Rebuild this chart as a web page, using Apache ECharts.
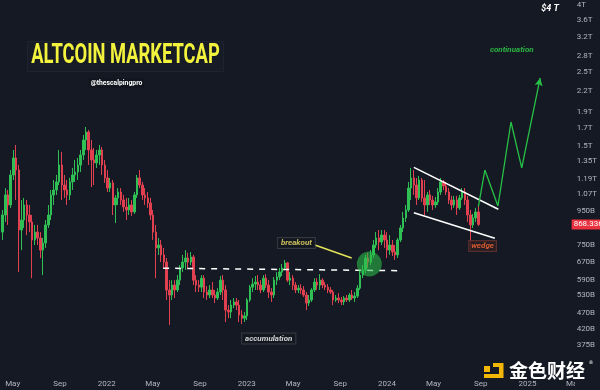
<!DOCTYPE html>
<html><head><meta charset="utf-8">
<script src="https://cdn.jsdelivr.net/npm/echarts@6/dist/echarts.min.js"></script>
<style>html,body{margin:0;padding:0;background:#151923;}#c{width:600px;height:390px;}</style>
</head><body><div id="c"></div>
<script>
// Weekly candles of the altcoin market cap (billions USD): [open, close, low, high]
const firstWeek = '2021-04-05';
const candles = [
[823,927,779,960],[927,1066,883,1118],[1066,994,865,1103],[994,1225,974,1268],[1225,1379,1183,1458],
[1379,1268,1029,1509],[1268,835,623,1313],[835,895,726,1029],[895,994,847,1044],[994,927,806,1029],
[927,883,823,994],[883,779,597,927],[779,823,752,865],[823,790,752,865],[790,726,687,823],
[726,763,610,790],[763,865,737,895],[865,927,847,994],[927,1066,895,1103],[1066,1103,994,1183],
[1103,1167,1066,1225],[1167,1313,1142,1458],[1313,1142,1029,1438],[1142,1103,1044,1225],[1103,1066,994,1183],
[1066,1167,1029,1200],[1167,1225,1103,1286],[1225,1251,1167,1360],[1251,1313,1183,1379],[1313,1408,1251,1458],
[1408,1563,1360,1618],[1563,1652,1458,1711],[1652,1458,1313,1675],[1458,1360,1126,1563],[1360,1332,1142,1478],
[1332,1408,1286,1458],[1408,1458,1313,1509],[1458,1313,1225,1489],[1313,1200,1159,1360],[1200,1118,1088,1268],
[1118,1159,1088,1200],[1159,994,927,1183],[994,1044,877,1066],[1044,1088,994,1118],[1088,1029,994,1118],
[1029,980,947,1066],[980,960,895,1044],[960,994,927,1044],[994,947,921,1029],[947,1066,934,1088],
[1066,1200,1044,1225],[1200,1142,1118,1268],[1142,1066,1029,1167],[1066,1044,994,1118],[1044,1008,974,1088],
[1008,927,895,1044],[927,823,779,960],[823,737,597,865],[737,752,702,790],[752,702,668,779],
[702,668,641,737],[668,550,513,687],[550,531,431,589],[531,569,513,589],[569,550,520,589],
[550,589,542,610],[589,641,569,654],[641,668,623,702],[668,687,632,726],[687,668,641,712],
[668,692,654,716],[692,589,569,702],[589,569,542,610],[569,561,542,589],[561,597,542,610],
[597,542,520,610],[542,531,513,565],[531,550,520,569],[550,531,520,581],[531,520,502,550],
[520,542,513,557],[542,589,531,606],[589,550,513,610],[550,478,440,569],[478,472,452,495],
[472,495,452,513],[495,506,485,520],[506,495,478,520],[495,462,440,513],[462,452,434,478],
[452,459,440,472],[459,513,446,520],[513,561,506,569],[561,573,542,597],[573,581,550,606],
[581,569,550,610],[569,550,538,589],[550,597,542,610],[597,569,557,614],[569,542,520,589],
[542,531,506,557],[531,589,520,602],[589,602,569,623],[602,623,589,641],[623,641,606,659],
[641,664,632,678],[664,589,581,668],[589,597,569,623],[597,569,550,610],[569,550,538,581],
[550,557,538,569],[557,550,535,573],[550,531,524,565],[531,502,478,542],[502,513,492,531],
[513,550,506,557],[550,581,542,597],[581,569,550,597],[569,589,550,614],[589,569,557,597],
[569,561,550,581],[561,550,538,573],[550,542,535,561],[542,513,495,550],[513,520,506,531],
[520,513,502,538],[513,506,495,524],[506,520,495,527],[520,513,506,531],[513,531,506,538],
[531,520,513,550],[520,527,506,542],[527,557,520,569],[557,610,550,632],[610,632,597,654],
[632,687,618,702],[687,668,641,712],[668,702,654,726],[702,752,687,779],[752,790,737,823],
[790,768,726,835],[768,806,752,835],[806,779,737,835],[779,726,687,823],[726,752,702,806],
[752,716,697,779],[716,702,678,752],[702,779,687,790],[779,847,768,865],[847,908,823,947],
[908,960,883,994],[960,1118,947,1167],[1118,1200,1029,1286],[1200,1142,1066,1268],[1142,1044,994,1200],
[1044,1183,1029,1217],[1183,1044,1015,1200],[1044,994,927,1183],[994,1066,947,1088],[1066,1029,994,1103],
[1029,994,960,1059],[994,1015,974,1051],[1015,1088,994,1118],[1088,1167,1066,1200],[1167,1134,1103,1183],
[1134,1088,1066,1167],[1088,1029,1001,1118],[1029,994,960,1059],[994,1029,974,1059],[1029,974,927,1059],
[974,1044,960,1066],[1044,1088,1029,1118],[1088,1029,994,1118],[1029,927,883,1059],[927,865,726,960],
[865,908,847,934],[908,947,883,974],[947,868.336,859,994]
];
const lastPrice = 868.336;
const yTickValues = [4000,3600,3200,2800,2500,2200,1900,1700,1500,1350,1190,1070,950,750,670,590,530,470,420,375];
const xTickDates = ['2021-05-01','2021-09-01','2022-01-01','2022-05-01','2022-09-01','2023-01-01','2023-05-01','2023-09-01','2024-01-01','2024-05-01','2024-09-01','2025-01-01','2025-05-01'];
const supportLine = [['2022-05-28',640],['2024-02-04',629]];
const wedgeTop = [['2024-03-11',1291],['2024-10-17',965]];
const wedgeBottom = [['2024-03-11',942],['2024-10-08',788]];
const projection = [['2024-08-26',982],['2024-09-12',1268],['2024-10-16',987],['2024-11-19',1771],['2024-12-17',1286],['2025-02-03',2406]];
const breakoutPoint = ['2023-11-16',659];
const breakoutPointer = [['2023-06-27',752],['2023-10-01',687]];
const notes = [
  {text:'breakout', at:['2023-05-10',763]},
  {text:'accumulation', at:['2023-02-27',392]},
  {text:'wedge', at:['2024-09-06',747]},
  {text:'continuation', at:['2024-11-21',2924]}
];

const t = s => Date.parse(s + 'T00:00:00Z');
const week0 = t(firstWeek);
const DAY = 86400000;
const candleData = candles.map((c, i) => [week0 + i * 7 * DAY, c[0], c[1], c[2], c[3]]);
const pts = arr => arr.map(p => [t(p[0]), p[1]]);
const MON = ['Jan','Feb','Mar','Apr','May','Jun','Jul','Aug','Sep','Oct','Nov','Dec'];

const noteStyles = {
  breakout: {color:'#f3e46a', backgroundColor:'#12151e', borderColor:'#3e414a', borderWidth:1, padding:[1,3]},
  accumulation: {color:'#ffffff', backgroundColor:'#12151e', borderColor:'#3e414a', borderWidth:1, padding:[1,3]},
  wedge: {color:'#ff6a33', backgroundColor:'#2a1d20', borderColor:'#6a3530', borderWidth:1, padding:[1,2]},
  continuation: {color:'#2fd84c'}
};

const chart = echarts.init(document.getElementById('c'), null, {renderer:'canvas'});
chart.setOption({
  backgroundColor:'#151923',
  animation:false,
  grid:{left:0, right:18, top:0, bottom:18},
  xAxis:{
    type:'value', min:t('2021-03-29'), max:t('2025-05-22'), scale:true,
    axisLine:{show:false}, axisTick:{show:false}, splitLine:{show:false},
    axisLabel:{
      customValues: xTickDates.map(t),
      color:'#b2b5be', fontSize:8, margin:8, fontFamily:'Roboto',
      formatter: v => { const d = new Date(v); return d.getUTCMonth() === 0 ? String(d.getUTCFullYear()) : MON[d.getUTCMonth()]; }
    }
  },
  yAxis:{
    type:'log', logBase:10, min:310.7, max:4141, position:'right', offset:-12,
    axisLine:{show:false}, axisTick:{show:false}, splitLine:{show:false},
    axisLabel:{
      customValues: yTickValues,
      color:'#b2b5be', fontSize:8, margin:7, fontFamily:'Roboto',
      formatter: v => v >= 1000 ? (v/1000) + 'T' : v + 'B'
    }
  },
  graphic:[
    {type:'rect', shape:{x:575, y:376, width:25, height:14}, style:{fill:'#151923'}, z:9},
    {type:'rect', left:27, top:41, shape:{width:196, height:30}, style:{fill:'#171b26', stroke:'#1f2330', lineWidth:1}, z:10},
    {type:'text', x:125.5, y:56, scaleX:0.655, style:{text:'ALTCOIN MARKETCAP', fill:'#f3f33d', font:'bold 28px Roboto', align:'center', verticalAlign:'middle'}, z:11},
    {type:'text', x:116.5, y:83, scaleX:0.85, style:{text:'@thescalpingpro', fill:'#ffffff', font:'bold 8px Roboto', align:'center', verticalAlign:'middle', backgroundColor:'#12151e', padding:[1,2]}, z:11},
    {type:'text', x:550, y:9, style:{text:'$4 T', fill:'#ffffff', font:'italic bold 9px Roboto', align:'center', verticalAlign:'middle'}, z:11},
    {type:'rect', shape:{x:484, y:366, width:6, height:6}, style:{fill:'#f2b705'}, z:20},
    {type:'rect', shape:{x:499, y:363, width:4.5, height:15}, style:{fill:'#f2b705'}, z:20},
    {type:'rect', shape:{x:484, y:374, width:19, height:4}, style:{fill:'#f2b705'}, z:20},
    {type:'rect', shape:{x:493, y:363, width:8, height:4}, style:{fill:'#f2b705'}, z:20},
    {type:'text', x:509, y:371, style:{text:'金色财经', fill:'#ffffff', font:'bold 19px "Noto Sans CJK SC"', align:'left', verticalAlign:'middle'}, z:20},
    {type:'text', x:591, y:363, style:{text:'®', fill:'#ffffff', font:'5px "DejaVu Sans"', align:'center', verticalAlign:'middle'}, z:20}
  ],
  series:[
    {
      type:'candlestick', data:candleData, encode:{x:0, y:[1,2,3,4]},
      barWidth:2,
      itemStyle:{color:'#2fbf55', color0:'#e0404f', borderColor:'#2fbf55', borderColor0:'#e0404f', borderWidth:1},
      markLine:{
        silent:true, symbol:'none', lineStyle:{color:'rgba(0,0,0,0)', width:0},
        data:[{yAxis:lastPrice}],
        label:{show:true, position:'end', distance:-10, formatter:'868.336B', color:'#ffffff', backgroundColor:'#e8323f', fontSize:8, padding:[1,2], fontFamily:'Roboto'}
      },
      z:2
    },
    {type:'line', data:pts(supportLine), symbol:'none', lineStyle:{color:'#ffffff', width:1.5, type:[6,6]}, z:4},
    {type:'line', data:pts(wedgeTop), symbol:'none', lineStyle:{color:'#ffffff', width:1.5}, z:4},
    {type:'line', data:pts(wedgeBottom), symbol:'none', lineStyle:{color:'#ffffff', width:1.5}, z:4},
    {type:'line', data:pts(projection).map((p, i, a) => i === a.length - 1 ? {value:p, symbol:'arrow', symbolSize:[6,8], symbolRotate:-11} : p),
      symbol:'none', showSymbol:true, itemStyle:{color:'#27c246'}, lineStyle:{color:'#27c246', width:1.3}, z:4},
    {type:'line', data:pts(breakoutPointer), symbol:'none', lineStyle:{color:'#e4e35a', width:1.5}, z:4},
    {type:'scatter', data:[[t(breakoutPoint[0]), breakoutPoint[1]]], symbolSize:25, itemStyle:{color:'rgba(44,190,72,0.72)'}, z:5},
    {type:'scatter', symbolSize:0, z:6,
      data: notes.map(n => ({value:[t(n.at[0]), n.at[1]], label:Object.assign({show:true, position:'inside', formatter:n.text, fontStyle:'italic', fontWeight:'bold', fontSize:8, fontFamily:'Roboto'}, noteStyles[n.text])}))
    }
  ]
});
</script></body></html>
